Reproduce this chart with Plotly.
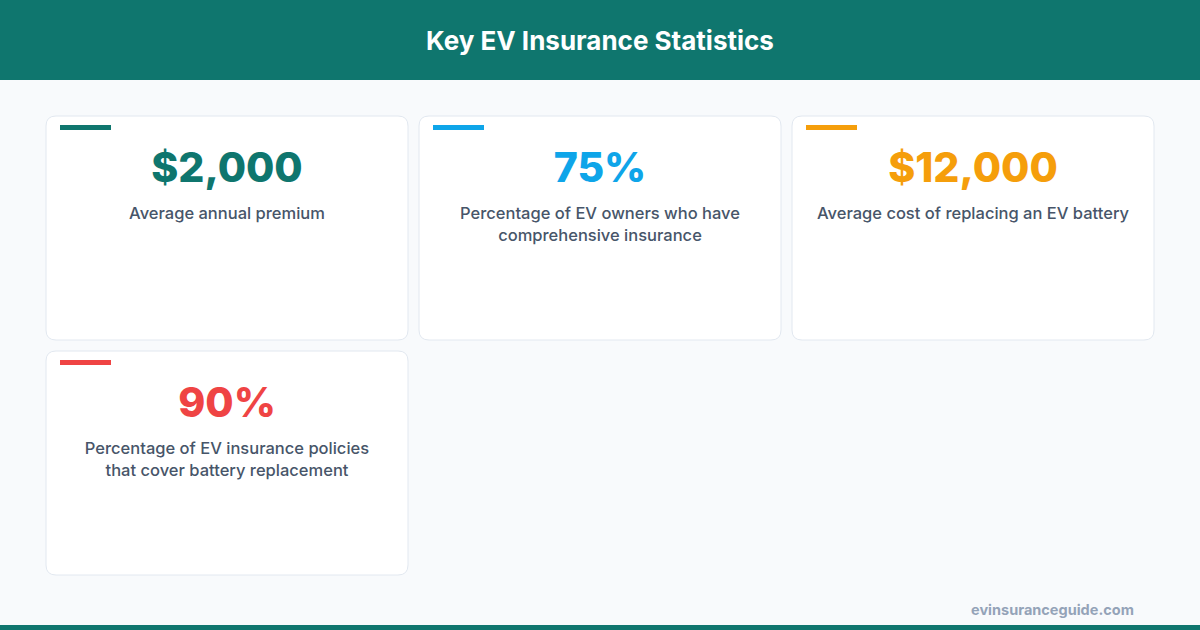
import plotly.graph_objects as go

title = "Key EV Insurance Statistics"
stat_values = ["$2,000", "75%", "$12,000", "90%"]
stat_labels = [
    "Average annual premium",
    "Percentage of EV owners who have<br>comprehensive insurance",
    "Average cost of replacing an EV battery",
    "Percentage of EV insurance policies<br>that cover battery replacement",
]
stat_colors = ["#0f766e", "#0ea5e9", "#f59e0b", "#ef4444"]
footer = "evinsuranceguide.com"

W, H = 1200, 630
card_w, card_h = 362, 224
col_x = [46, 419, 792]
row_y = [116, 351]


def rounded_rect(x0, y0, x1, y1, r):
    return (f"M{x0+r},{y0} L{x1-r},{y0} Q{x1},{y0} {x1},{y0+r} L{x1},{y1-r} "
            f"Q{x1},{y1} {x1-r},{y1} L{x0+r},{y1} Q{x0},{y1} {x0},{y1-r} "
            f"L{x0},{y0+r} Q{x0},{y0} {x0+r},{y0} Z")


fig = go.Figure()
shapes = [
    dict(type="rect", x0=0, x1=W, y0=0, y1=80, fillcolor="#0f766e", line_width=0, layer="below"),
    dict(type="rect", x0=0, x1=W, y0=625, y1=630, fillcolor="#0f766e", line_width=0, layer="below"),
]
for i, (val, lab, col) in enumerate(zip(stat_values, stat_labels, stat_colors)):
    x0 = col_x[i % 3]
    y0 = row_y[i // 3]
    shapes.append(dict(type="path", path=rounded_rect(x0, y0, x0 + card_w, y0 + card_h, 10),
                       fillcolor="white", line=dict(color="#e2e8f0", width=1), layer="below"))
    shapes.append(dict(type="rect", x0=x0 + 14, x1=x0 + 65, y0=y0 + 9, y1=y0 + 14,
                       fillcolor=col, line_width=0, layer="below"))
    fig.add_trace(go.Scatter(x=[x0 + card_w / 2], y=[y0 + 56], mode="text", text=[val],
                             textfont=dict(size=41, color=col, family="Inter", weight=800),
                             hoverinfo="skip"))
    lines = lab.count("<br>") + 1
    fig.add_trace(go.Scatter(x=[x0 + card_w / 2], y=[y0 + 99 + (lines - 1) * 11], mode="text",
                             text=[lab],
                             textfont=dict(size=16.5, color="#475569", family="Inter", weight=500),
                             hoverinfo="skip"))

fig.add_annotation(x=W / 2, y=40, text=f"<b>{title}</b>", showarrow=False,
                   font=dict(size=26, color="white", family="Inter"))
fig.add_annotation(x=1136, y=609, text=f"<b>{footer}</b>", showarrow=False, xanchor="right",
                   font=dict(size=14.5, color="#94a3b8", family="Inter"))

fig.update_layout(
    width=W, height=H, margin=dict(l=0, r=0, t=0, b=0), showlegend=False,
    paper_bgcolor="#f8fafc", plot_bgcolor="#f8fafc", shapes=shapes,
    xaxis=dict(range=[0, W], visible=False, fixedrange=True),
    yaxis=dict(range=[H, 0], visible=False, fixedrange=True),
)
fig.write_html("out.html", config={"displayModeBar": False},
               post_script="document.body.style.margin='0';document.body.style.overflow='hidden';")
